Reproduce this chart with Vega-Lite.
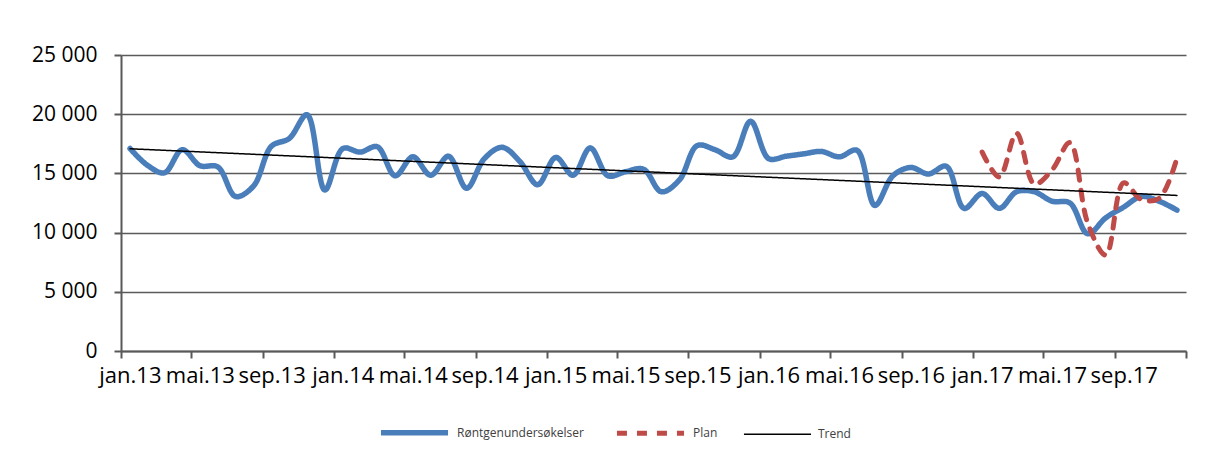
{
  "$schema": "https://vega.github.io/schema/vega-lite/v6.json",
  "width": 1065,
  "height": 296,
  "autosize": "none",
  "padding": {"left": 121, "top": 55, "right": 27, "bottom": 104},
  "background": "white",
  "config": {"view": {"stroke": null}},
  "data": {"values": [
    {"dato": "2013-01", "serie": "Røntgenundersøkelser", "antall": 17100},
    {"dato": "2013-02", "serie": "Røntgenundersøkelser", "antall": 15700},
    {"dato": "2013-03", "serie": "Røntgenundersøkelser", "antall": 15050},
    {"dato": "2013-04", "serie": "Røntgenundersøkelser", "antall": 17000},
    {"dato": "2013-05", "serie": "Røntgenundersøkelser", "antall": 15650},
    {"dato": "2013-06", "serie": "Røntgenundersøkelser", "antall": 15550},
    {"dato": "2013-07", "serie": "Røntgenundersøkelser", "antall": 13050},
    {"dato": "2013-08", "serie": "Røntgenundersøkelser", "antall": 13950},
    {"dato": "2013-09", "serie": "Røntgenundersøkelser", "antall": 17300},
    {"dato": "2013-10", "serie": "Røntgenundersøkelser", "antall": 17950},
    {"dato": "2013-11", "serie": "Røntgenundersøkelser", "antall": 19950},
    {"dato": "2013-12", "serie": "Røntgenundersøkelser", "antall": 13600},
    {"dato": "2014-01", "serie": "Røntgenundersøkelser", "antall": 17100},
    {"dato": "2014-02", "serie": "Røntgenundersøkelser", "antall": 16800},
    {"dato": "2014-03", "serie": "Røntgenundersøkelser", "antall": 17250},
    {"dato": "2014-04", "serie": "Røntgenundersøkelser", "antall": 14800},
    {"dato": "2014-05", "serie": "Røntgenundersøkelser", "antall": 16400},
    {"dato": "2014-06", "serie": "Røntgenundersøkelser", "antall": 14850},
    {"dato": "2014-07", "serie": "Røntgenundersøkelser", "antall": 16450},
    {"dato": "2014-08", "serie": "Røntgenundersøkelser", "antall": 13750},
    {"dato": "2014-09", "serie": "Røntgenundersøkelser", "antall": 16250},
    {"dato": "2014-10", "serie": "Røntgenundersøkelser", "antall": 17200},
    {"dato": "2014-11", "serie": "Røntgenundersøkelser", "antall": 16000},
    {"dato": "2014-12", "serie": "Røntgenundersøkelser", "antall": 14050},
    {"dato": "2015-01", "serie": "Røntgenundersøkelser", "antall": 16350},
    {"dato": "2015-02", "serie": "Røntgenundersøkelser", "antall": 14850},
    {"dato": "2015-03", "serie": "Røntgenundersøkelser", "antall": 17150},
    {"dato": "2015-04", "serie": "Røntgenundersøkelser", "antall": 14800},
    {"dato": "2015-05", "serie": "Røntgenundersøkelser", "antall": 15150},
    {"dato": "2015-06", "serie": "Røntgenundersøkelser", "antall": 15350},
    {"dato": "2015-07", "serie": "Røntgenundersøkelser", "antall": 13450},
    {"dato": "2015-08", "serie": "Røntgenundersøkelser", "antall": 14450},
    {"dato": "2015-09", "serie": "Røntgenundersøkelser", "antall": 17350},
    {"dato": "2015-10", "serie": "Røntgenundersøkelser", "antall": 17000},
    {"dato": "2015-11", "serie": "Røntgenundersøkelser", "antall": 16400},
    {"dato": "2015-12", "serie": "Røntgenundersøkelser", "antall": 19400},
    {"dato": "2016-01", "serie": "Røntgenundersøkelser", "antall": 16250},
    {"dato": "2016-02", "serie": "Røntgenundersøkelser", "antall": 16450},
    {"dato": "2016-03", "serie": "Røntgenundersøkelser", "antall": 16650},
    {"dato": "2016-04", "serie": "Røntgenundersøkelser", "antall": 16850},
    {"dato": "2016-05", "serie": "Røntgenundersøkelser", "antall": 16400},
    {"dato": "2016-06", "serie": "Røntgenundersøkelser", "antall": 16950},
    {"dato": "2016-07", "serie": "Røntgenundersøkelser", "antall": 12300},
    {"dato": "2016-08", "serie": "Røntgenundersøkelser", "antall": 14800},
    {"dato": "2016-09", "serie": "Røntgenundersøkelser", "antall": 15500},
    {"dato": "2016-10", "serie": "Røntgenundersøkelser", "antall": 14950},
    {"dato": "2016-11", "serie": "Røntgenundersøkelser", "antall": 15600},
    {"dato": "2016-12", "serie": "Røntgenundersøkelser", "antall": 12050},
    {"dato": "2017-01", "serie": "Røntgenundersøkelser", "antall": 13300},
    {"dato": "2017-02", "serie": "Røntgenundersøkelser", "antall": 12050},
    {"dato": "2017-03", "serie": "Røntgenundersøkelser", "antall": 13450},
    {"dato": "2017-04", "serie": "Røntgenundersøkelser", "antall": 13450},
    {"dato": "2017-05", "serie": "Røntgenundersøkelser", "antall": 12650},
    {"dato": "2017-06", "serie": "Røntgenundersøkelser", "antall": 12500},
    {"dato": "2017-07", "serie": "Røntgenundersøkelser", "antall": 9900},
    {"dato": "2017-08", "serie": "Røntgenundersøkelser", "antall": 11250},
    {"dato": "2017-09", "serie": "Røntgenundersøkelser", "antall": 12150},
    {"dato": "2017-10", "serie": "Røntgenundersøkelser", "antall": 13050},
    {"dato": "2017-11", "serie": "Røntgenundersøkelser", "antall": 12650},
    {"dato": "2017-12", "serie": "Røntgenundersøkelser", "antall": 11900},
    {"dato": "2017-01", "serie": "Plan", "antall": 16800},
    {"dato": "2017-02", "serie": "Plan", "antall": 14700},
    {"dato": "2017-03", "serie": "Plan", "antall": 18400},
    {"dato": "2017-04", "serie": "Plan", "antall": 14100},
    {"dato": "2017-05", "serie": "Plan", "antall": 15300},
    {"dato": "2017-06", "serie": "Plan", "antall": 17600},
    {"dato": "2017-07", "serie": "Plan", "antall": 10800},
    {"dato": "2017-08", "serie": "Plan", "antall": 8100},
    {"dato": "2017-09", "serie": "Plan", "antall": 14200},
    {"dato": "2017-10", "serie": "Plan", "antall": 12800},
    {"dato": "2017-11", "serie": "Plan", "antall": 12900},
    {"dato": "2017-12", "serie": "Plan", "antall": 16300},
    {"dato": "2013-01", "serie": "Trend", "antall": 17080},
    {"dato": "2017-12", "serie": "Trend", "antall": 13140}
  ]},
  "mark": {"type": "line", "interpolate": "catmull-rom", "strokeCap": "round", "strokeJoin": "round"},
  "encoding": {
    "x": {
      "field": "dato", "type": "temporal", "timeUnit": "utcyearmonth", "bandPosition": 0.5,
      "scale": {"domain": [{"year": 2013, "month": 1, "date": 1, "utc": true}, {"year": 2018, "month": 1, "date": 1, "utc": true}]},
      "axis": {
        "title": null,
        "values": [
          {"year": 2013, "month": 1, "date": 1, "utc": true},
          {"year": 2013, "month": 5, "date": 1, "utc": true},
          {"year": 2013, "month": 9, "date": 1, "utc": true},
          {"year": 2014, "month": 1, "date": 1, "utc": true},
          {"year": 2014, "month": 5, "date": 1, "utc": true},
          {"year": 2014, "month": 9, "date": 1, "utc": true},
          {"year": 2015, "month": 1, "date": 1, "utc": true},
          {"year": 2015, "month": 5, "date": 1, "utc": true},
          {"year": 2015, "month": 9, "date": 1, "utc": true},
          {"year": 2016, "month": 1, "date": 1, "utc": true},
          {"year": 2016, "month": 5, "date": 1, "utc": true},
          {"year": 2016, "month": 9, "date": 1, "utc": true},
          {"year": 2017, "month": 1, "date": 1, "utc": true},
          {"year": 2017, "month": 5, "date": 1, "utc": true},
          {"year": 2017, "month": 9, "date": 1, "utc": true},
          {"year": 2018, "month": 1, "date": 1, "utc": true}
        ],
        "labelExpr": "utcyear(datum.value) >= 2018 ? '' : ['jan','feb','mar','apr','mai','jun','jul','aug','sep','okt','nov','des'][utcmonth(datum.value)] + '.' + utcFormat(datum.value, '%y')",
        "labelOffset": 8.9,
        "labelFont": "Open Sans",
        "labelFontSize": 22,
        "labelColor": "#000000",
        "labelPadding": 7,
        "labelOverlap": false,
        "labelFlush": false,
        "labelBound": false,
        "grid": false,
        "tickSize": 7,
        "tickColor": "#595959",
        "tickWidth": 2,
        "domainColor": "#595959",
        "domainWidth": 2
      }
    },
    "y": {
      "field": "antall", "type": "quantitative",
      "scale": {"domain": [0, 25000], "nice": false},
      "axis": {
        "title": null,
        "values": [0, 5000, 10000, 15000, 20000, 25000],
        "labelExpr": "replace(format(datum.value, ',d'), ',', ' ')",
        "labelFont": "Open Sans",
        "labelFontSize": 21,
        "labelColor": "#000000",
        "labelPadding": 17,
        "tickSize": 7,
        "tickColor": "#595959",
        "tickWidth": 2,
        "domainColor": "#595959",
        "domainWidth": 2,
        "grid": true,
        "gridColor": "#5a5a5a",
        "gridWidth": 1.6
      }
    },
    "color": {
      "field": "serie", "type": "nominal",
      "scale": {"domain": ["Røntgenundersøkelser", "Plan", "Trend"], "range": ["#4A7EBB", "#BE4B48", "#000000"]},
      "legend": {"orient": "none", "legendX": 257, "legendY": 341, "direction": "horizontal", "title": null, "symbolType": "stroke", "symbolSize": 4500, "labelFont": "Open Sans", "labelFontSize": 12, "labelColor": "#404040", "columnPadding": 22, "labelOffset": 6}
    },
    "strokeDash": {
      "field": "serie", "type": "nominal",
      "scale": {"domain": ["Røntgenundersøkelser", "Plan", "Trend"], "range": [[1, 0], [10, 10], [1, 0]]},
      "legend": {"orient": "none", "legendX": 257, "legendY": 341, "direction": "horizontal", "title": null, "symbolType": "stroke", "symbolSize": 4500, "labelFont": "Open Sans", "labelFontSize": 12, "labelColor": "#404040", "columnPadding": 22, "labelOffset": 6}
    },
    "strokeWidth": {
      "field": "serie", "type": "nominal",
      "scale": {"type": "ordinal", "domain": ["Røntgenundersøkelser", "Plan", "Trend"], "range": [5.5, 5, 1.5]},
      "legend": {"orient": "none", "legendX": 257, "legendY": 341, "direction": "horizontal", "title": null, "symbolType": "stroke", "symbolSize": 4500, "labelFont": "Open Sans", "labelFontSize": 12, "labelColor": "#404040", "columnPadding": 22, "labelOffset": 6}
    }
  }
}
